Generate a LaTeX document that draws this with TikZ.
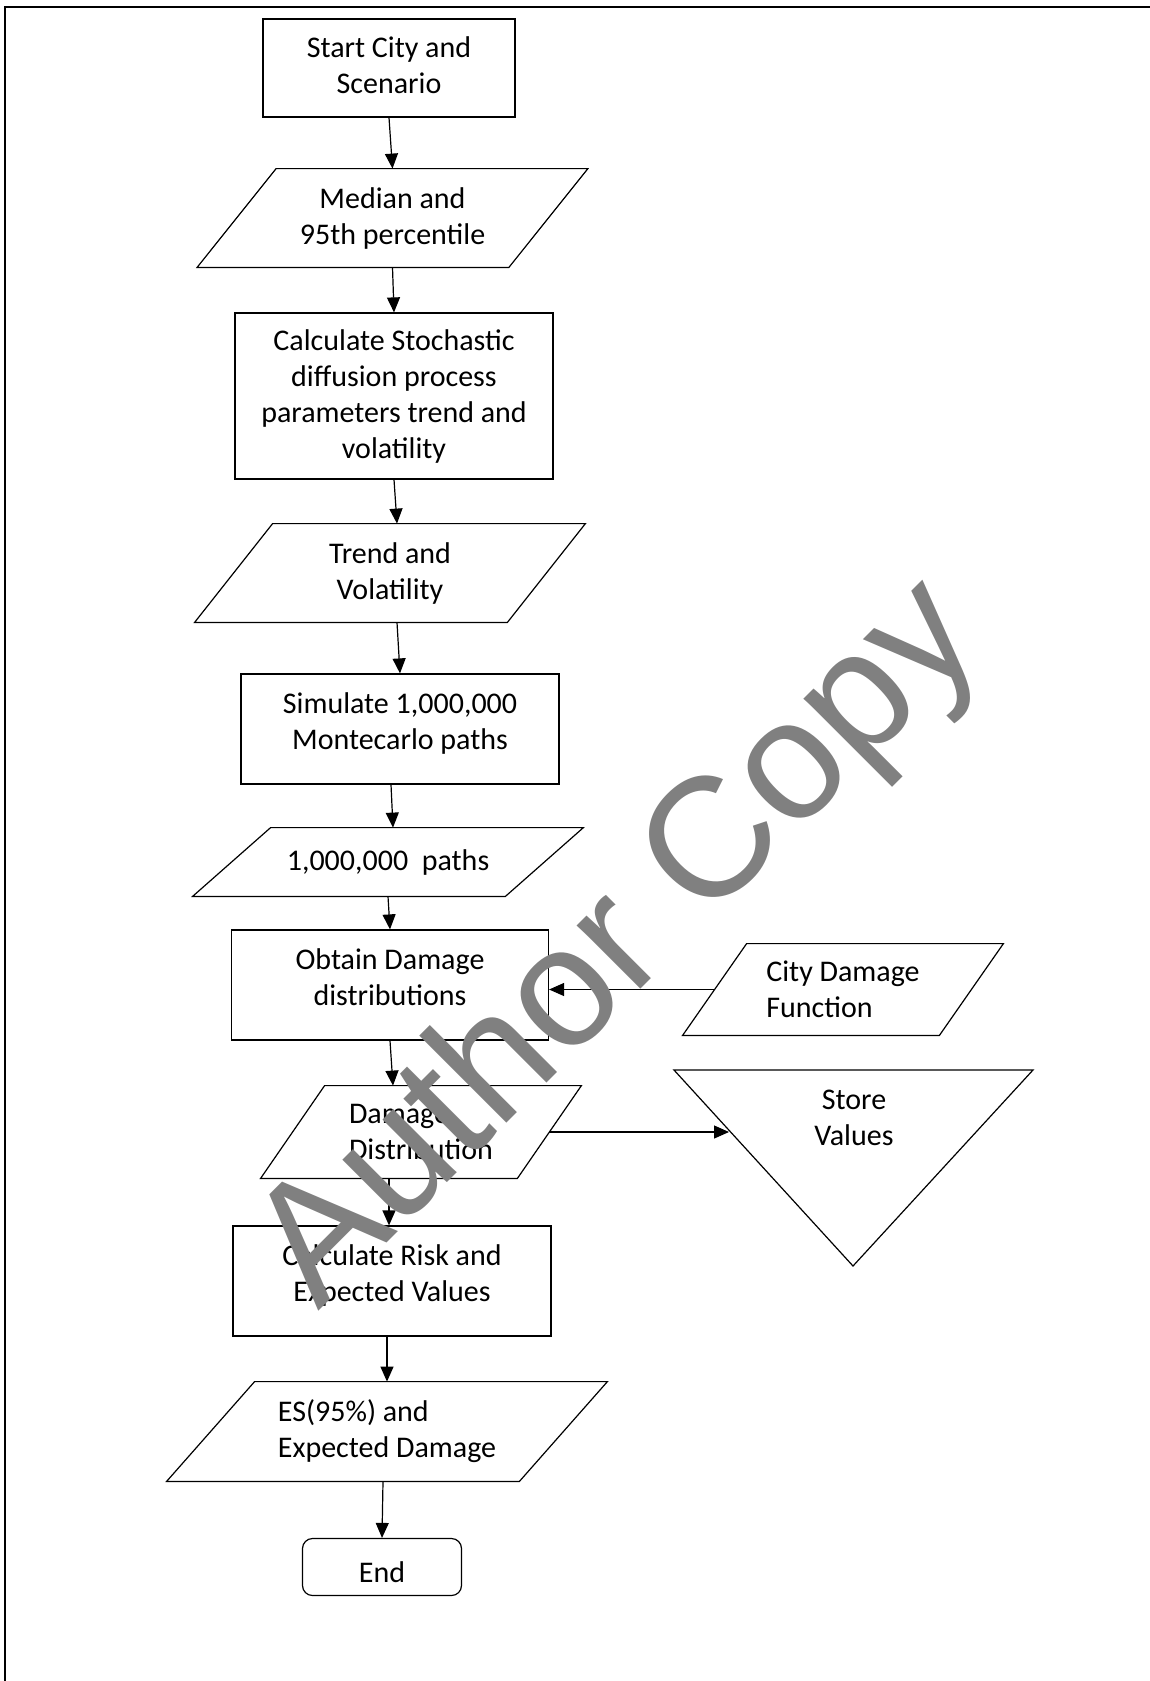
\documentclass[tikz,border=0pt]{standalone}
\usepackage{fontspec}
\setmainfont{Carlito}
\newfontfamily\wmfont{Liberation Sans}
\usetikzlibrary{positioning,arrows.meta}

\begin{document}
\begin{tikzpicture}
[
  x=0.5pt, y=-0.5pt,
  font=\fontsize{15}{18}\selectfont,
  proc/.style={rectangle, draw, line width=0.6pt, align=center, inner sep=0pt},
  topped/.style={text depth=8pt},
  io/.style={rectangle, draw=none, align=center, inner sep=0pt},
  outline/.style={line width=0.6pt},
  flow/.style={-{Triangle[length=7.5pt,width=6.5pt]}, line width=0.6pt},
  node distance=75pt,
  on grid
]
 \useasboundingbox (0,0) rectangle (1150,1681);
 \draw[line width=1pt] (5,1700) |- (1160,6.5);

 % main column
 \node[proc, text depth=3pt, minimum width=126pt, minimum height=49pt] (start) at (389,68) {Start City and\\Scenario};
 \node[io, minimum width=155.5pt, minimum height=49pt, below=75pt of start, xshift=1.75pt] (median) {Median and\\95th percentile};
 \node[proc, minimum width=159pt, minimum height=83pt, below=89pt of median, xshift=0.75pt] (calc) {Calculate Stochastic\\diffusion process\\parameters trend and\\volatility};
 \node[io, minimum width=156pt, minimum height=49pt, below=88.5pt of calc, xshift=-2pt] (trend) {Trend and\\Volatility};
 \node[proc, topped, minimum width=159pt, minimum height=55pt, below=78pt of trend, xshift=5pt] (sim) {Simulate 1,000,000\\Montecarlo paths};
 \node[io, minimum width=156pt, minimum height=34pt, below=66.5pt of sim, xshift=-6pt] (paths) {1,000,000~ paths};
 \node[proc, topped, minimum width=158.5pt, minimum height=55pt, below=61.5pt of paths, xshift=1pt] (obtain) {Obtain Damage\\distributions};
 \node[io, align=left, minimum width=128pt, minimum height=46pt, below=73.5pt of obtain, xshift=15.5pt] (damage) {Damage\\Distribution};
 \node[proc, topped, minimum width=159pt, minimum height=55pt, below=74.5pt of damage, xshift=-14.5pt] (risk) {Calculate Risk and\\Expected Values};
 \node[io, align=left, minimum width=176pt, minimum height=49.5pt, below=75.25pt of risk, xshift=-2.5pt] (es) {ES(95\%) and\\Expected Damage};
 \node[proc, rounded corners=5pt, text height=15.5pt, minimum width=79.5pt, minimum height=28.5pt, below=67.75pt of es, xshift=-2.5pt] (finish) {End};

 % side inputs and outputs
 \node[io, align=left, minimum width=128pt, minimum height=45.5pt, right=226.5pt of obtain, yshift=-2.25pt] (city) {City Damage\\Function};

 \foreach \n/\s in {median/19.75pt, trend/19.5pt, paths/19.5pt, damage/16pt, es/22pt, city/16pt}
   \draw[outline] ([xshift=-\s]\n.south west) -- ([xshift=-\s]\n.south east)
     -- ([xshift=\s]\n.north east) -- ([xshift=\s]\n.north west) -- cycle;

 \coordinate (storeL) at (674,1070);
 \coordinate (storeR) at (1033,1070);
 \coordinate (storeB) at (853,1266);
 \coordinate (storein) at (729,1132);
 \draw[outline] (storeL) -- (storeR) -- (storeB) -- cycle;
 \node[align=center, inner sep=0pt] (store) at (854,1118) {Store\\Values};

 \path[flow]
   (start.south) edge (median.north)
   (median.south) edge (calc.north)
   (calc.south) edge ([xshift=3.5pt]trend.north)
   ([xshift=3.5pt]trend.south) edge (sim.north)
   ([xshift=-4.5pt]sim.south) edge ([xshift=2.5pt]paths.north)
   (paths.south) edge (obtain.north)
   (obtain.south) edge ([xshift=-14pt]damage.north)
   ([xshift=-16pt]damage.south) edge ([xshift=-1.5pt]risk.north)
   ([xshift=-2.5pt]risk.south) edge (es.north)
   ([xshift=-2pt]es.south) edge (finish.north)
   (city.west) edge (city.west -| obtain.east)
   (damage.east) edge (storein);

 \node[inner sep=0pt, anchor=base west, rotate=45, text=black!50,
   font=\wmfont\fontsize{85}{85}\selectfont] (mark) at (318,1312) {Author Copy};
\end{tikzpicture}
\end{document}
